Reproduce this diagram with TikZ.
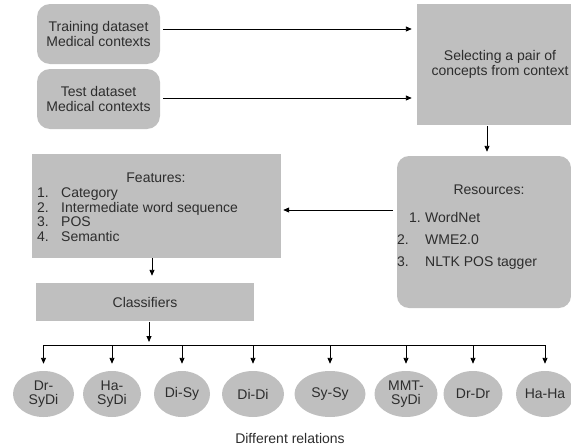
\documentclass[tikz,border=0pt]{standalone}
\usepackage{fontspec}
\setmainfont{Liberation Sans}
\usepackage{xcolor}
\usepackage{tikz}
\usetikzlibrary{
    positioning,
    arrows.meta,
    calc,
    shapes.geometric
}
\definecolor{boxgray}{RGB}{191,191,191}
\definecolor{txtgray}{RGB}{45,45,45}

\begin{document}
\begin{tikzpicture}[x=1pt, y=-1pt,
    every node/.style={font=\fontsize{14}{14.5}\selectfont, text=txtgray},
    databox/.style={fill=boxgray, rounded corners=13pt, minimum width=123pt, minimum height=60pt, align=center, inner sep=0pt},
    stepbox/.style={fill=boxgray, inner sep=0pt, align=center},
    relation/.style={ellipse, fill=boxgray, inner sep=0pt, minimum height=46pt, align=center},
    listline/.style={anchor=west, inner sep=0pt},
    arr/.style={-{Triangle[length=6pt, width=5pt]}, line width=0.9pt, black}
]
    \useasboundingbox (0,0) rectangle (571,447);
    % 入力データと前処理
    \node[databox] (train) at (98.5,34) {Training dataset\\Medical contexts};
    \node[databox] (test) at (98.5,99) {Test dataset\\Medical contexts};
    \node[stepbox, minimum width=154pt, minimum height=121pt] (select) at (494,64.5) {\hspace*{12pt}Selecting a pair of\\\hspace*{12pt}concepts from context};
    \node[stepbox, rounded corners=12pt, minimum width=174pt, minimum height=152pt] (res) at (484,232) {};
    \node (restitle) at (489,190) {Resources:};
    \node[listline] (res1) at (409,217) {\makebox[16pt][l]{1.}WordNet};
    \node[listline] (res2) at (397,240) {\makebox[28pt][l]{2.}WME2.0};
    \node[listline] (res3) at (397,263) {\makebox[28pt][l]{3.}NLTK POS tagger};
    % 特徴量と分類器
    \node[stepbox, minimum width=249pt, minimum height=104pt] (feat) at (156.5,206) {};
    \node (feattitle) at (156,178) {Features:};
    \node[listline, align=left] (featlist) at (37,214.5) {\makebox[24pt][l]{1.}Category\\
        \makebox[24pt][l]{2.}Intermediate word sequence\\
        \makebox[24pt][l]{3.}POS\\
        \makebox[24pt][l]{4.}Semantic};
    \node[stepbox, minimum width=218pt, minimum height=38pt] (cls) at (145,302) {Classifiers};
    % 関係の種類
    \foreach \name/\x/\w/\txt in {r1/43.5/61/{Dr-\\SyDi}, r2/112/58/{Ha-\\SyDi}, r3/182/56/{Di-Sy},
        r4/253/62/{Di-Di}, r5/330/71/{Sy-Sy}, r6/406/63/{MMT-\\SyDi}, r7/473/59/{Dr-Dr}, r8/545/58/{Ha-Ha}}
        \node[relation, minimum width=\w pt] (\name) at (\x,394) {\txt};
    \node (diff) at (290,438) {Different relations};
    \coordinate (bus) at (149,345);

    \draw[arr, shorten <=3pt, shorten >=5pt] ([yshift=5pt]train.east) -- ([yshift=5pt]train.east -| select.west);
    \draw[arr, shorten <=3pt, shorten >=5pt] ([yshift=1pt]test.east) -- ([yshift=1pt]test.east -| select.west);
    \draw[arr, shorten <=1pt, shorten >=4pt] ([xshift=-7pt]select.south) -- ([xshift=-7pt]select.south |- res.north);
    \draw[arr, shorten <=4pt, shorten >=2pt] ([yshift=-4pt]feat.east -| res.west) -- ([yshift=-4pt]feat.east);
    \draw[arr, shorten >=7pt] ([xshift=-4.5pt]feat.south) -- ([xshift=-4.5pt]feat.south |- cls.north);
    \draw[arr, shorten <=1pt, shorten >=3pt] (bus |- cls.south) -- (bus);
    \draw[line width=0.9pt] (r1 |- bus) -- (r8 |- bus);
    \foreach \n in {r1,r2,r3,r4,r5,r6,r7,r8}
        \draw[arr, shorten >=7pt] (\n |- bus) -- (\n.north);
\end{tikzpicture}
\end{document}
